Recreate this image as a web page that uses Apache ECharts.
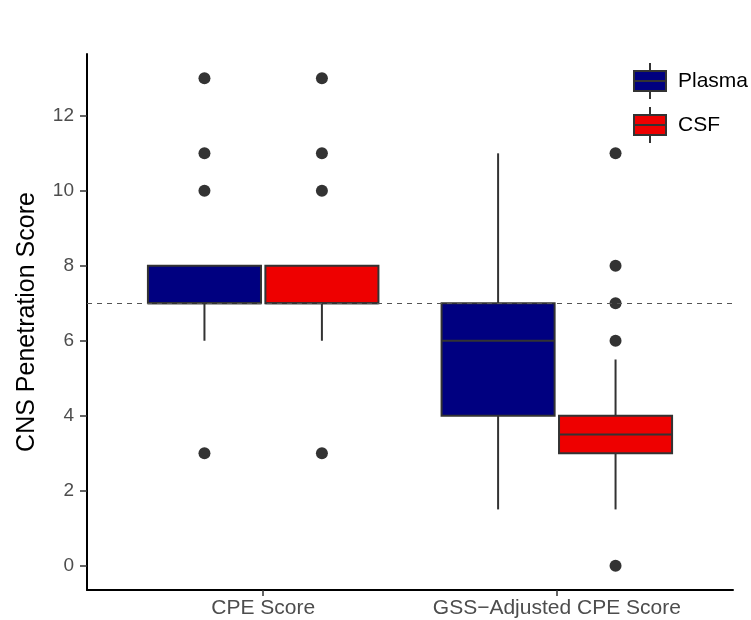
<!DOCTYPE html>
<html>
<head>
    <meta charset="utf-8">
    <title>CNS Penetration Score</title>
    <script src="https://cdn.jsdelivr.net/npm/echarts@6/dist/echarts.min.js"></script>
    <style>
        html, body { margin: 0; padding: 0; background: #fff; }
    </style>
</head>
<body>
<div id="main" style="width: 751px;height:620px;"></div>

<script type="text/javascript">
    // categories on the x axis
    var categories = ['CPE Score', 'GSS\u2212Adjusted CPE Score'];
    var groups = ['Plasma', 'CSF'];
    // per category: [lower whisker, Q1, median, Q3, upper whisker]
    var plasmaBox = [[6, 7, 7, 8, 8], [1.5, 4, 6, 7, 11]];
    var csfBox = [[6, 7, 7, 8, 8], [1.5, 3, 3.5, 4, 5.5]];
    // outlier points per category
    var plasmaOutliers = [[13, 11, 10, 3], []];
    var csfOutliers = [[13, 11, 10, 3], [11, 8, 7, 6, 0]];
    var yTicks = [0, 2, 4, 6, 8, 10, 12];
    var refLine = 7;

    var colors = {Plasma: '#000080', CSF: '#ee0000'};
    var dodge = 0.2;     // half of the dodge spacing
    var boxW = 0.385;    // box width in category units
    var edge = '#333333';

    function boxData(arr) {
        return arr.map(function (b, i) { return [i + 1].concat(b); });
    }
    function outlierData(arr, off) {
        var out = [];
        arr.forEach(function (vals, i) {
            vals.forEach(function (v) { out.push([i + 1 + off, v]); });
        });
        return out;
    }

    function makeRender(off) {
        return function (params, api) {
            var x = api.value(0) + off;
            var lo = api.coord([x, api.value(1)]);
            var q1 = api.coord([x, api.value(2)]);
            var md = api.coord([x, api.value(3)]);
            var q3 = api.coord([x, api.value(4)]);
            var hi = api.coord([x, api.value(5)]);
            var half = api.size([boxW, 0])[0] / 2;
            var ls = {stroke: edge, lineWidth: 2};
            return {
                type: 'group',
                children: [
                    {type: 'line', shape: {x1: lo[0], y1: lo[1], x2: q1[0], y2: q1[1]}, style: ls},
                    {type: 'line', shape: {x1: q3[0], y1: q3[1], x2: hi[0], y2: hi[1]}, style: ls},
                    {type: 'rect', shape: {x: q3[0] - half, y: q3[1], width: half * 2, height: q1[1] - q3[1]},
                        style: {fill: api.visual('color'), stroke: edge, lineWidth: 2}},
                    {type: 'line', shape: {x1: md[0] - half, y1: md[1], x2: md[0] + half, y2: md[1]}, style: ls}
                ]
            };
        };
    }

    // legend key drawn like ggplot's boxplot key: whiskers, box, median
    var legendIcon = 'path://M16 0L16 8M0 8L32 8L32 28L0 28ZM0 18L32 18M16 28L16 36';

    var myChart = echarts.init(document.getElementById('main'));
    myChart.setOption({
        animation: false,
        textStyle: {fontFamily: 'Liberation Sans, Arial, sans-serif'},
        grid: {left: 87, right: 18, top: 54, bottom: 30},
        legend: {
            data: groups,
            orient: 'vertical',
            left: 633,
            top: 62,
            padding: 0,
            itemWidth: 34,
            itemHeight: 36,
            itemGap: 6,
            icon: legendIcon,
            itemStyle: {borderColor: edge, borderWidth: 2},
            textStyle: {fontSize: 21, color: '#000', padding: [0, 0, 0, 6]}
        },
        xAxis: {
            type: 'value',
            min: 0.4,
            max: 2.6,
            splitLine: {show: false},
            axisLine: {show: true, onZero: false, lineStyle: {color: '#000', width: 2}},
            axisTick: {show: true, length: 6, customValues: [1, 2], lineStyle: {color: edge, width: 1.5}},
            axisLabel: {
                customValues: [1, 2],
                fontSize: 21,
                color: '#4d4d4d',
                margin: 8,
                formatter: function (v) { return categories[Math.round(v) - 1]; }
            }
        },
        yAxis: {
            type: 'value',
            min: -0.65,
            max: 13.65,
            name: 'CNS Penetration Score',
            nameLocation: 'middle',
            nameGap: 47,
            nameTextStyle: {fontSize: 25, color: '#000'},
            splitLine: {show: false},
            axisLine: {show: true, lineStyle: {color: '#000', width: 2}},
            axisTick: {show: true, length: 7, customValues: yTicks, lineStyle: {color: edge, width: 1.5}},
            axisLabel: {customValues: yTicks, fontSize: 19, color: '#4d4d4d', margin: 13}
        },
        series: [
            {
                name: 'Plasma',
                type: 'custom',
                renderItem: makeRender(-dodge),
                itemStyle: {color: colors.Plasma},
                encode: {x: 0, y: [1, 2, 3, 4, 5]},
                data: boxData(plasmaBox),
                z: 2
            },
            {
                name: 'CSF',
                type: 'custom',
                renderItem: makeRender(dodge),
                itemStyle: {color: colors.CSF},
                encode: {x: 0, y: [1, 2, 3, 4, 5]},
                data: boxData(csfBox),
                z: 2
            },
            {
                name: 'Plasma outliers',
                type: 'scatter',
                symbolSize: 12,
                itemStyle: {color: edge, opacity: 1},
                data: outlierData(plasmaOutliers, -dodge),
                z: 3
            },
            {
                name: 'CSF outliers',
                type: 'scatter',
                symbolSize: 12,
                itemStyle: {color: edge, opacity: 1},
                data: outlierData(csfOutliers, dodge),
                z: 3,
                markLine: {
                    silent: true,
                    symbol: ['none', 'none'],
                    label: {show: false},
                    lineStyle: {color: '#555', type: [5, 5], width: 1},
                    data: [{yAxis: refLine}]
                }
            }
        ]
    });
</script>
</body>
</html>
